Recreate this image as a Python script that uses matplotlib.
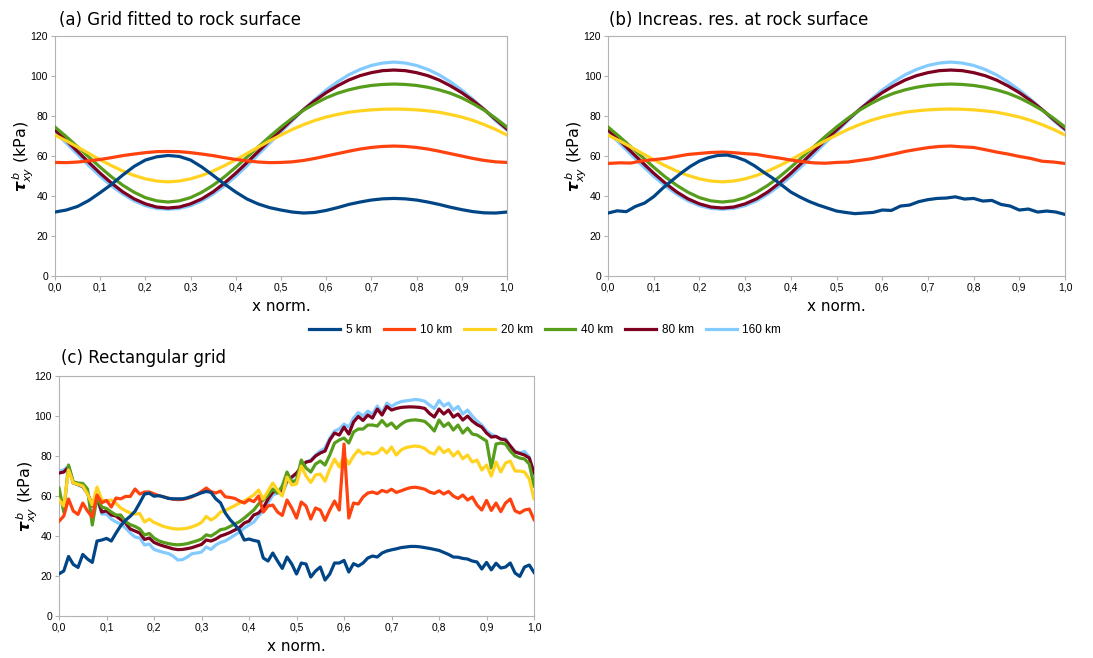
import matplotlib
matplotlib.use("Agg")
import matplotlib.pyplot as plt
import numpy as np

plt.rcParams['mathtext.fontset'] = 'dejavusans'

# --- series names and colours (LibreOffice default palette) ---
labels = ['5 km', '10 km', '20 km', '40 km', '80 km', '160 km']
colors = ['#004586', '#ff420e', '#ffd320', '#579d1c', '#7e0021', '#83caff']

# --- (a) grid fitted to rock surface, read every 0.025 ---
x_a = np.linspace(0, 1, 41)
a5 = [32.0, 33.0, 34.8, 37.8, 41.7, 45.8, 50.5, 54.8, 58.0, 59.6, 60.3, 59.8, 58.0, 54.5,
      50.3, 46.0, 42.0, 38.5, 36.0, 34.2, 33.0, 32.0, 31.5, 31.8, 32.8, 34.2, 35.8, 37.0,
      38.0, 38.6, 38.8, 38.6, 38.0, 37.0, 35.8, 34.4, 33.2, 32.2, 31.6, 31.5, 32.0]
a10 = [56.8, 56.7, 57.0, 57.6, 58.3, 59.2, 60.2, 61.0, 61.7, 62.2, 62.3, 62.2, 61.7, 61.0,
       60.2, 59.2, 58.3, 57.6, 57.0, 56.7, 56.8, 57.1, 57.8, 58.8, 60.0, 61.2, 62.4, 63.5,
       64.3, 64.8, 65.0, 64.8, 64.3, 63.5, 62.4, 61.2, 60.0, 58.8, 57.8, 57.1, 56.8]
a20 = [70.5, 67.6, 64.5, 61.3, 58.1, 55.2, 52.5, 50.3, 48.6, 47.5, 47.1, 47.5, 48.6, 50.3,
       52.5, 55.2, 58.1, 61.3, 64.5, 67.6, 70.5, 73.3, 75.7, 77.8, 79.5, 80.8, 81.9, 82.6,
       83.1, 83.4, 83.5, 83.4, 83.1, 82.6, 81.9, 80.8, 79.5, 77.8, 75.7, 73.3, 70.5]
a40 = [74.5, 69.7, 64.6, 59.5, 54.4, 49.6, 45.4, 41.9, 39.2, 37.6, 37.0, 37.6, 39.2, 41.9,
       45.4, 49.6, 54.4, 59.5, 64.6, 69.7, 74.5, 78.9, 82.9, 86.2, 89.1, 91.4, 93.1, 94.4,
       95.3, 95.8, 96.0, 95.8, 95.3, 94.4, 93.1, 91.4, 89.1, 86.2, 82.9, 78.9, 74.5]
a80 = [73.0, 67.8, 62.3, 56.8, 51.4, 46.5, 42.1, 38.6, 36.1, 34.5, 34.0, 34.5, 36.1, 38.6,
       42.1, 46.5, 51.4, 56.8, 62.3, 67.8, 73.0, 78.3, 83.2, 87.7, 91.7, 95.1, 98.0, 100.2,
       101.7, 102.7, 103.0, 102.7, 101.7, 100.2, 98.0, 95.1, 91.7, 87.7, 83.2, 78.3, 73.5]
a160 = [72.0, 66.5, 60.8, 55.2, 49.9, 45.1, 41.0, 37.6, 35.2, 33.8, 33.4, 33.8, 35.2, 37.6,
        41.0, 45.1, 49.9, 55.2, 60.8, 66.5, 72.0, 77.7, 83.2, 88.3, 93.0, 97.1, 100.6, 103.3,
        105.3, 106.5, 107.0, 106.5, 105.3, 103.3, 100.6, 97.1, 93.0, 88.3, 83.2, 77.7, 73.0]

# --- (b) increased resolution: 5 km read every 0.02, 10 km every 0.025 ---
x_b5 = np.linspace(0, 1, 51)
b5 = [31.5, 32.6, 32.2, 34.8, 36.5, 39.7, 44.0, 47.8, 51.5, 54.8, 57.5, 59.2, 60.3, 60.5,
      59.5, 57.8, 55.2, 52.0, 49.0, 45.5, 42.0, 39.5, 37.3, 35.5, 34.0, 32.5, 31.8, 31.2,
      31.5, 31.8, 33.0, 32.8, 35.0, 35.5, 37.2, 38.2, 38.8, 39.0, 39.6, 38.5, 38.8, 37.5,
      37.8, 35.8, 35.0, 33.0, 33.5, 32.0, 32.5, 32.0, 30.8]
b10 = [56.3, 56.6, 56.5, 57.6, 58.2, 58.8, 59.8, 60.8, 61.3, 61.8, 62.0, 61.7, 61.2, 60.8,
       59.8, 59.0, 58.0, 57.2, 56.6, 56.4, 56.8, 57.0, 57.8, 58.6, 59.8, 61.0, 62.3, 63.3,
       64.2, 64.8, 65.0, 64.6, 64.3, 63.2, 62.0, 61.0, 59.8, 58.8, 57.4, 57.0, 56.3]

# --- (c) rectangular grid, read every 0.01 ---
x_c = np.linspace(0, 1, 101)
c5 = [21.1, 22.5, 29.8, 25.8, 24.3, 30.8, 28.5, 26.8, 37.5, 38.0,
      38.8, 37.5, 41.5, 45.2, 47.9, 49.9, 52.4, 56.6, 61.0, 61.4,
      59.9, 60.2, 59.6, 58.8, 58.6, 58.6, 58.6, 59.1, 59.9, 60.7,
      61.6, 62.3, 61.8, 58.6, 56.6, 51.5, 48.2, 45.7, 42.8, 38.0,
      38.5, 37.8, 37.3, 29.0, 27.5, 31.5, 27.5, 23.8, 29.5, 26.0,
      21.0, 26.5, 26.0, 19.5, 22.5, 24.5, 18.0, 21.0, 26.5, 26.5,
      27.8, 22.0, 26.2, 25.0, 26.5, 29.0, 30.0, 29.5, 31.5, 32.5,
      33.1, 33.6, 34.2, 34.5, 34.8, 34.8, 34.6, 34.2, 33.8, 33.3,
      32.8, 31.8, 30.8, 29.5, 29.4, 28.8, 28.5, 27.5, 27.0, 23.5,
      26.8, 23.1, 26.4, 24.0, 24.5, 26.5, 21.5, 19.8, 24.5, 25.5, 21.8]
c10 = [47.4, 50.0, 58.5, 52.5, 50.8, 56.5, 52.5, 49.5, 60.5, 56.6,
       57.8, 54.5, 59.0, 58.6, 59.8, 59.8, 63.5, 61.0, 62.0, 62.0,
       61.1, 60.2, 59.6, 59.0, 58.4, 58.2, 58.3, 58.8, 59.6, 60.8,
       62.3, 64.0, 62.2, 61.5, 62.5, 59.6, 59.3, 58.8, 57.5, 56.5,
       58.2, 57.2, 60.0, 52.0, 55.0, 55.5, 52.0, 50.3, 58.0, 54.0,
       49.0, 57.0, 55.0, 48.5, 54.0, 53.0, 47.8, 53.0, 57.5, 53.0,
       86.0, 49.0, 56.5, 56.0, 59.5, 61.5, 62.0, 61.2, 62.8, 62.0,
       63.4, 61.8, 62.6, 63.5, 64.2, 64.4, 64.0, 63.4, 62.0, 61.3,
       62.6, 61.0, 62.3, 60.0, 58.8, 60.5, 58.0, 59.5, 55.5, 53.0,
       57.8, 52.8, 56.5, 52.2, 56.5, 58.5, 52.6, 51.5, 53.0, 53.5, 48.2]
c20 = [58.2, 55.0, 73.0, 66.5, 65.8, 65.0, 61.0, 55.5, 64.5, 58.0,
       57.5, 58.0, 56.3, 54.0, 52.6, 51.5, 51.0, 51.2, 47.0, 48.5,
       46.8, 45.8, 44.8, 44.2, 43.7, 43.5, 43.6, 43.9, 44.6, 45.5,
       46.8, 49.8, 48.0, 49.5, 52.0, 52.8, 54.0, 55.2, 56.5, 57.5,
       59.0, 60.5, 63.0, 58.5, 62.5, 66.5, 63.0, 60.0, 69.5, 65.5,
       66.0, 75.0, 70.0, 66.8, 70.5, 71.0, 67.4, 73.5, 78.5, 74.5,
       80.0, 76.0, 80.0, 83.0, 81.0, 81.8, 81.0, 81.5, 84.0, 81.5,
       84.5, 80.5, 83.0, 84.2, 84.7, 85.0, 84.7, 83.8, 81.8, 81.0,
       84.5, 81.7, 83.3, 80.0, 82.3, 78.6, 80.5, 77.0, 78.0, 73.0,
       75.5, 70.0, 77.0, 72.0, 76.5, 77.5, 72.5, 72.5, 72.0, 68.5, 58.6]
c40 = [64.0, 52.0, 75.5, 67.0, 66.5, 66.3, 63.5, 45.5, 59.5, 54.5,
       53.8, 52.0, 50.5, 50.5, 47.2, 45.7, 44.8, 43.5, 40.5, 41.3,
       39.0, 37.6, 36.8, 36.2, 35.8, 35.6, 35.8, 36.2, 36.9, 37.6,
       38.5, 40.6, 40.0, 41.5, 43.2, 43.6, 44.8, 46.0, 47.2, 49.0,
       51.0, 53.0, 56.0, 58.0, 60.5, 63.5, 61.5, 65.0, 72.0, 67.0,
       68.0, 78.0, 74.0, 72.0, 76.0, 77.5, 75.5, 80.5, 86.5, 88.0,
       89.0, 86.5, 92.0, 93.5, 93.5, 95.5, 95.5, 95.0, 97.8, 95.0,
       96.5, 93.8, 95.9, 97.4, 97.9, 98.1, 97.8, 97.3, 95.2, 92.5,
       98.0, 94.8, 96.5, 93.0, 95.5, 91.5, 94.0, 91.0, 90.5, 89.0,
       87.5, 74.0, 86.0, 86.5, 86.0, 82.5, 80.0, 79.0, 78.5, 76.0, 65.0]
c80 = [71.5, 72.0, 74.5, 66.5, 65.8, 64.8, 61.5, 55.0, 59.5, 52.0,
       52.6, 50.5, 50.0, 48.2, 46.5, 43.5, 42.5, 41.5, 38.3, 39.0,
       36.8, 35.8, 35.0, 34.3, 33.6, 33.2, 33.3, 33.7, 34.2, 35.0,
       35.8, 38.0, 37.5, 38.5, 40.0, 40.8, 41.8, 43.0, 44.3, 46.5,
       47.5, 50.5, 51.5, 54.0, 58.5, 62.0, 62.5, 62.0, 68.0, 69.5,
       71.5, 74.5, 77.0, 77.5, 80.0, 81.5, 82.5, 88.0, 91.5, 90.5,
       94.5, 91.0, 97.0, 99.8, 97.8, 100.5, 99.0, 103.5, 100.5, 104.8,
       103.0, 103.8, 104.3, 104.5, 104.6, 104.5, 104.3, 103.8, 101.3, 99.5,
       103.5, 101.0, 103.0, 99.5, 101.0, 98.0, 100.0, 97.5, 95.7, 94.5,
       91.5, 89.5, 89.8, 88.5, 88.0, 85.0, 82.0, 81.3, 80.5, 79.0, 71.6]
c160 = [72.5, 73.0, 75.0, 66.5, 65.5, 64.5, 61.0, 55.5, 58.5, 51.0,
        51.0, 48.5, 47.0, 46.0, 44.0, 41.5, 39.5, 39.0, 35.5, 36.0,
        33.3, 32.5, 31.8, 31.3, 30.0, 28.0, 28.2, 29.5, 31.2, 31.5,
        32.0, 34.5, 33.3, 35.5, 36.8, 37.5, 39.0, 40.5, 42.0, 44.0,
        45.5, 47.0, 50.0, 52.5, 56.5, 60.5, 61.5, 61.0, 67.0, 69.0,
        71.0, 74.5, 77.0, 78.0, 80.5, 82.5, 84.0, 89.0, 92.5, 93.5,
        96.0, 94.5, 99.0, 101.7, 100.0, 102.5, 101.0, 105.0, 101.5, 106.5,
        104.8, 106.3, 107.2, 107.6, 107.9, 108.3, 108.0, 107.4, 105.5, 103.8,
        107.8, 105.0, 106.5, 103.0, 104.8, 101.0, 103.0, 100.0, 97.5, 95.5,
        92.5, 90.8, 89.8, 88.4, 88.6, 85.0, 82.5, 81.5, 82.3, 79.5, 70.0]

x_ticks = np.arange(0, 1.01, 0.1)
x_ticklabels = ['0,0', '0,1', '0,2', '0,3', '0,4', '0,5', '0,6', '0,7', '0,8', '0,9', '1,0']
y_ticks = [0, 20, 40, 60, 80, 100, 120]

fig = plt.figure(figsize=(10.93, 6.58), dpi=100)
ax_a = fig.add_axes([0.0503, 0.5805, 0.4135, 0.3647])
ax_b = fig.add_axes([0.5563, 0.5805, 0.4181, 0.3647])
ax_c = fig.add_axes([0.0540, 0.0638, 0.4346, 0.3647])


def style(ax):
    ax.set_xlim(0, 1)
    ax.set_ylim(0, 120)
    ax.set_xticks(x_ticks)
    ax.set_xticklabels(x_ticklabels, family='Liberation Sans', fontsize=7.5)
    ax.set_yticks(y_ticks)
    ax.set_yticklabels([str(v) for v in y_ticks], family='Liberation Sans', fontsize=7.5)
    ax.tick_params(direction='out', length=3, width=0.8, color='#b3b3b3', pad=2)
    for s in ax.spines.values():
        s.set_color('#b3b3b3')
        s.set_linewidth(0.8)
    ax.set_xlabel('x norm.', fontsize=11, labelpad=4)
    ax.set_ylabel(r'$\mathbfit{\tau}^{\,b}_{xy}$ (kPa)', fontsize=11.5, labelpad=-4)


lw = 2.3
# panel a
series_a = [a5, a10, a20, a40, a80, a160]
for i, (ys, lab, col) in enumerate(zip(series_a, labels, colors)):
    ax_a.plot(x_a, ys, color=col, lw=lw, label=lab, zorder=10 - i)
style(ax_a)

# panel b (20..160 km identical to panel a)
series_b = [(x_b5, b5), (x_a, b10), (x_a, a20), (x_a, a40), (x_a, a80), (x_a, a160)]
for i, ((xs, ys), col) in enumerate(zip(series_b, colors)):
    ax_b.plot(xs, ys, color=col, lw=lw, zorder=10 - i)
style(ax_b)

# panel c
series_c = [c5, c10, c20, c40, c80, c160]
for i, (ys, col) in enumerate(zip(series_c, colors)):
    ax_c.plot(x_c, ys, color=col, lw=lw, zorder=10 - i)
style(ax_c)

fig.text(0.054, 0.969, '(a) Grid fitted to rock surface', fontsize=12, va='center')
fig.text(0.557, 0.969, '(b) Increas. res. at rock surface', fontsize=12, va='center')
fig.text(0.056, 0.456, '(c) Rectangular grid', fontsize=12, va='center')

handles, labs = ax_a.get_legend_handles_labels()
fig.legend(handles, labs, loc='center', bbox_to_anchor=(0.499, 0.4985), ncol=6,
           frameon=False, prop={'family': 'Liberation Sans', 'size': 8.5},
           handlelength=2.6, columnspacing=1.0, handletextpad=0.5)

fig.savefig('out.png', dpi=100)
